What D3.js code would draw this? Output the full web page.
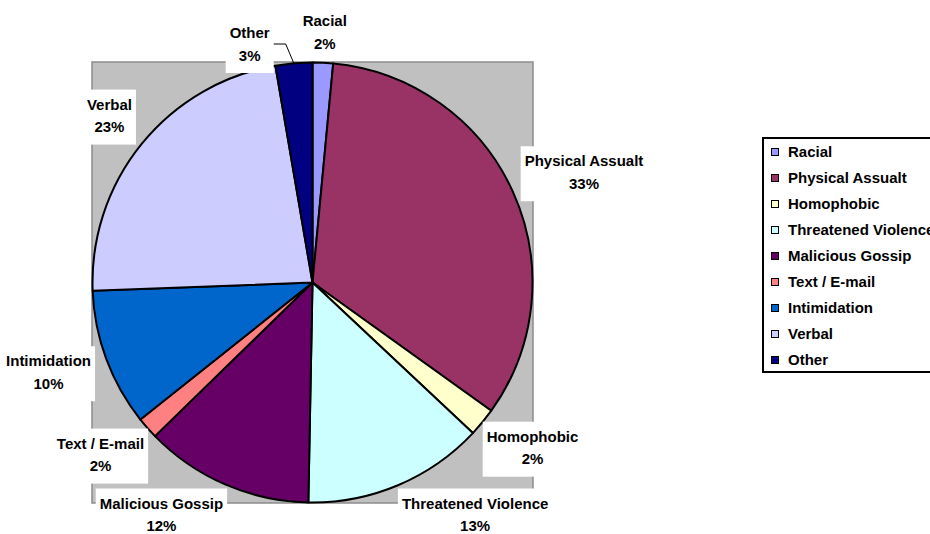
<!DOCTYPE html>
<html>
<head>
<meta charset="utf-8">
<script src="https://cdn.jsdelivr.net/npm/d3@7"></script>
<style>
  body { margin: 0; background: #fff; }
  svg text { font-family: "Liberation Sans", Arial, sans-serif; font-weight: bold; fill: #000; }
</style>
</head>
<body>
<script>
// data
var categories = ["Racial", "Physical Assualt", "Homophobic", "Threatened Violence",
                  "Malicious Gossip", "Text / E-mail", "Intimidation", "Verbal", "Other"];
var shares = [1.5, 33.4, 2.1, 13.3, 12.4, 1.6, 10.1, 22.9, 2.7];
var percentLabels = ["2%", "33%", "2%", "13%", "12%", "2%", "10%", "23%", "3%"];
var colors = ["#9999FF", "#993366", "#FFFFCC", "#CCFFFF", "#660066",
              "#FF8080", "#0066CC", "#CCCCFF", "#000080"];

var svgWidth = 930, svgHeight = 534;
var cx = 312.5, cy = 282.5, radius = 220;
var fontSize = 15;

var svg = d3.select("body").append("svg")
    .attr("width", svgWidth)
    .attr("height", svgHeight);

// plot area
svg.append("rect")
    .attr("x", cx - radius - 0.5)
    .attr("y", cy - radius - 0.5)
    .attr("width", radius * 2 + 1)
    .attr("height", radius * 2 + 1)
    .attr("fill", "#C0C0C0")
    .attr("stroke", "#8c8c8c")
    .attr("stroke-width", 1.5);

var data = categories.map(function(c, i){
  return {name: c, value: shares[i], pct: percentLabels[i], color: colors[i]};
});

var pie = d3.pie().sort(null).value(function(d){ return d.value; });
var arc = d3.arc().innerRadius(0).outerRadius(radius);
var arcs = pie(data);

var chart = svg.append("g").attr("transform", "translate(" + cx + "," + cy + ")");

chart.selectAll(".slice")
    .data(arcs).enter()
  .append("path")
    .attr("class", "slice")
    .attr("d", arc)
    .attr("fill", function(d){ return d.data.color; })
    .attr("stroke", "#000")
    .attr("stroke-width", 2)
    .attr("stroke-linejoin", "round");

// data labels
var labelG = svg.append("g");
var lab = labelG.selectAll(".lab")
    .data(arcs.map(function(d){ return {d: d, a: (d.startAngle + d.endAngle) / 2, leader: false}; }))
    .enter()
  .append("g")
    .attr("class", "lab");

lab.append("rect").attr("fill", "#fff");
lab.append("text")
    .attr("class", "l1")
    .attr("text-anchor", "middle")
    .attr("font-size", fontSize)
    .attr("dy", "0.35em")
    .text(function(d){ return d.d.data.name; });
lab.append("text")
    .attr("class", "l2")
    .attr("text-anchor", "middle")
    .attr("font-size", fontSize)
    .attr("dy", "0.35em")
    .text(function(d){ return d.d.data.pct; });

var boxH = 55, gapR = 235, touchR = 223, yMinC = 33.5, yMaxC = 516;
var labels = [];
lab.each(function(d){
  var w = 0;
  d3.select(this).selectAll("text").each(function(){ w = Math.max(w, this.getComputedTextLength()); });
  d.w = w + 8;
  var s = Math.sin(d.a), c = Math.cos(d.a);
  // anchor just outside the pie, box pushed away from the centre
  d.x = cx + gapR * s + s * d.w / 2;
  d.y = cy - gapR * c - c * boxH / 2;
  if (d.y > yMaxC) {
    d.y = yMaxC;
    var dy = d.y - boxH / 2 - cy;
    var dx = Math.sqrt(Math.max(0, touchR * touchR - dy * dy));
    d.x = s > 0 ? cx + dx + d.w / 2 : cx - dx - d.w / 2;
  }
  if (d.y < yMinC) d.y = yMinC;
  labels.push(d);
});

// push the last label left if it runs into the first one
var first = labels[0], last = labels[labels.length - 1];
if (last.x + last.w / 2 > first.x - first.w / 2 - 25) {
  last.x = first.x - first.w / 2 - 25 - last.w / 2;
  last.y += 12;
  last.leader = true;
}

lab.select("rect")
    .attr("x", function(d){ return d.x - d.w / 2; })
    .attr("y", function(d){ return d.y - boxH / 2; })
    .attr("width", function(d){ return d.w; })
    .attr("height", boxH);
lab.select(".l1")
    .attr("x", function(d){ return d.x; })
    .attr("y", function(d){ return d.y - boxH / 2 + 15; });
lab.select(".l2")
    .attr("x", function(d){ return d.x; })
    .attr("y", function(d){ return d.y - boxH / 2 + 37.5; });

// leader line for moved labels
labelG.selectAll(".leader")
    .data(labels.filter(function(d){ return d.leader; })).enter()
  .append("polyline")
    .attr("class", "leader")
    .attr("fill", "none")
    .attr("stroke", "#000")
    .attr("stroke-width", 1)
    .attr("points", function(d){
      var x0 = d.x + d.w / 2, y0 = d.y - 1.5;
      var px = cx + radius * Math.sin(d.a), py = cy - radius * Math.cos(d.a);
      return [[x0, y0], [x0 + 12, y0], [px, py]].map(function(p){ return p.join(","); }).join(" ");
    });

// legend
var legend = svg.append("g").attr("transform", "translate(763,138)");
legend.append("rect")
    .attr("width", 200)
    .attr("height", 234)
    .attr("fill", "#fff")
    .attr("stroke", "#000")
    .attr("stroke-width", 2);

var item = legend.selectAll(".item")
    .data(data).enter()
  .append("g")
    .attr("class", "item")
    .attr("transform", function(d, i){ return "translate(0," + (14 + i * 26) + ")"; });

item.append("rect")
    .attr("x", 8.5)
    .attr("y", -3.5)
    .attr("width", 7)
    .attr("height", 7)
    .attr("fill", function(d){ return d.color; })
    .attr("stroke", "#000")
    .attr("stroke-width", 1);

item.append("text")
    .attr("x", 25)
    .attr("dy", "0.35em")
    .attr("font-size", fontSize)
    .text(function(d){ return d.name; });
</script>
</body>
</html>
